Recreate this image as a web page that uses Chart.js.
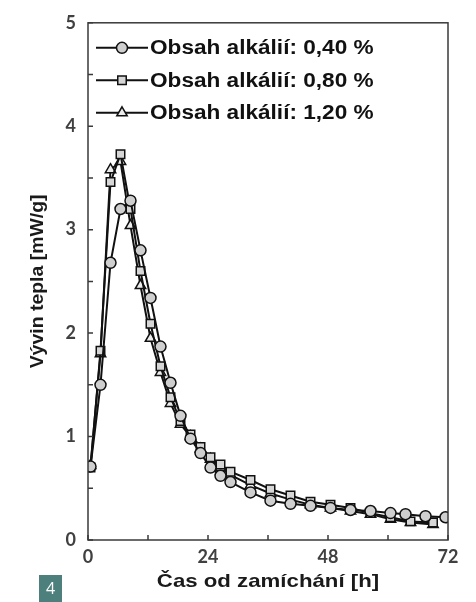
<!DOCTYPE html>
<html lang="cs">
<head>
<meta charset="utf-8">
<title>Vývin tepla</title>
<script src="https://cdn.jsdelivr.net/npm/chart.js@4.4.1/dist/chart.umd.min.js"></script>
<style>
  html, body { margin: 0; padding: 0; background: #fff; }
  #wrap { position: relative; width: 476px; height: 602px; }
</style>
</head>
<body>
<div id="wrap"><canvas id="heatChart"></canvas></div>
<script>
// time axis [h] for each series
const timeCircle = [0.5, 2.5, 4.5, 6.5, 8.5, 10.5, 12.5, 14.5, 16.5, 18.5, 20.5, 22.5, 24.5, 26.5, 28.5,
  32.5, 36.5, 40.5, 44.5, 48.5, 52.5, 56.5, 60.5, 63.5, 67.5, 71.5];
const timeSquareTri = [0.5, 2.5, 4.5, 6.5, 8.5, 10.5, 12.5, 14.5, 16.5, 18.5, 20.5, 22.5, 24.5, 26.5, 28.5,
  32.5, 36.5, 40.5, 44.5, 48.5, 52.5, 56.5, 60.5, 64.5, 69];

// heat flow [mW/g]
const alk040 = [0.71, 1.50, 2.68, 3.20, 3.28, 2.80, 2.34, 1.87, 1.52, 1.20, 0.98, 0.84, 0.70, 0.62, 0.56,
  0.46, 0.38, 0.35, 0.33, 0.31, 0.29, 0.28, 0.26, 0.25, 0.23, 0.22];
const alk080 = [0.70, 1.83, 3.46, 3.73, 3.20, 2.60, 2.09, 1.68, 1.38, 1.15, 1.02, 0.90, 0.80, 0.73, 0.66,
  0.58, 0.49, 0.43, 0.37, 0.34, 0.31, 0.26, 0.22, 0.18, 0.17];
const alk120 = [0.72, 1.80, 3.58, 3.66, 3.04, 2.46, 1.95, 1.62, 1.32, 1.12, 1.00, 0.88, 0.78, 0.70, 0.63,
  0.53, 0.45, 0.39, 0.34, 0.31, 0.28, 0.25, 0.20, 0.17, 0.15];

const seriesLabels = ["Obsah alkálií: 0,40 %", "Obsah alkálií: 0,80 %", "Obsah alkálií: 1,20 %"];
const xTickLabels = [0, 24, 48, 72];
const yTickLabels = [0, 1, 2, 3, 4, 5];
const xTitle = "Čas od zamíchání [h]";
const yTitle = "Vývin tepla [mW/g]";

const FONT = "'Liberation Sans', Arial, sans-serif";

function toPoints(times, values) {
  return times.map((t, i) => ({ x: t, y: values[i] }));
}

// text a bit wider than the font gives, like the source figure
function wideText(ctx, text, x, y, stretch, align) {
  ctx.save();
  ctx.translate(x, y);
  ctx.scale(stretch, 1);
  ctx.textAlign = align;
  ctx.fillText(text, 0, 0);
  ctx.restore();
}

// frame, inward ticks, legend inside the plot, axis titles, figure badge
const framePlugin = {
  id: "frame",
  afterDraw(chart) {
    const ctx = chart.ctx;
    const { left, right, top, bottom } = chart.chartArea;
    const xs = chart.scales.x;
    const ys = chart.scales.y;

    ctx.save();
    ctx.strokeStyle = "#3a3a3a";
    ctx.lineWidth = 1.5;
    ctx.strokeRect(left, top, right - left, bottom - top);

    ctx.beginPath();
    xs.ticks.forEach((t) => {
      const px = xs.getPixelForValue(t.value);
      ctx.moveTo(px, bottom);
      ctx.lineTo(px, bottom - 5);
    });
    ys.ticks.forEach((t) => {
      const py = ys.getPixelForValue(t.value);
      ctx.moveTo(left, py);
      ctx.lineTo(left + 5, py);
    });
    ctx.stroke();

    // legend
    chart.data.datasets.forEach((ds, i) => {
      const rowY = top + 25 + i * 32.5;
      ctx.strokeStyle = "#111";
      ctx.lineWidth = 2;
      ctx.beginPath();
      ctx.moveTo(left + 8, rowY);
      ctx.lineTo(left + 60, rowY);
      ctx.stroke();
      ctx.fillStyle = ds.pointBackgroundColor;
      ctx.strokeStyle = "#111";
      ctx.lineWidth = 1.5;
      Chart.helpers.drawPoint(ctx, {
        pointStyle: ds.pointStyle,
        radius: ds.pointRadius,
        rotation: 0,
        borderWidth: 1.5,
      }, left + 34, rowY);
      ctx.fillStyle = "#111";
      ctx.font = "bold 20px " + FONT;
      ctx.textBaseline = "middle";
      wideText(ctx, ds.label, left + 62, rowY + 1, 1.13, "left");
    });

    // axis titles
    ctx.fillStyle = "#1a1a1a";
    ctx.font = "bold 19px " + FONT;
    ctx.textBaseline = "middle";
    wideText(ctx, xTitle, (left + right) / 2, 582, 1.17, "center");
    ctx.save();
    ctx.translate(38, (top + bottom) / 2);
    ctx.rotate(-Math.PI / 2);
    ctx.font = "bold 18px " + FONT;
    wideText(ctx, yTitle, 0, 0, 1.08, "center");
    ctx.restore();

    // figure number badge
    ctx.fillStyle = "#4d7f7c";
    ctx.fillRect(39, 575, 23, 27);
    ctx.fillStyle = "#fff";
    ctx.font = "16px 'Open Sans', sans-serif";
    ctx.textAlign = "center";
    ctx.textBaseline = "middle";
    ctx.fillText("4", 50.5, 589);
    ctx.restore();
  },
};

const lineColor = "#111";

new Chart(document.getElementById("heatChart"), {
  type: "line",
  data: {
    datasets: [
      {
        label: seriesLabels[0],
        data: toPoints(timeCircle, alk040),
        borderColor: lineColor,
        borderWidth: 2,
        pointStyle: "circle",
        pointRadius: 5.5,
        pointBorderWidth: 1.5,
        pointBorderColor: lineColor,
        pointBackgroundColor: "#cfcfcf",
        tension: 0,
      },
      {
        label: seriesLabels[1],
        data: toPoints(timeSquareTri, alk080),
        borderColor: lineColor,
        borderWidth: 2,
        pointStyle: "rect",
        pointRadius: 6,
        pointBorderWidth: 1.5,
        pointBorderColor: lineColor,
        pointBackgroundColor: "#d6d6d6",
        tension: 0,
      },
      {
        label: seriesLabels[2],
        data: toPoints(timeSquareTri, alk120),
        borderColor: lineColor,
        borderWidth: 2,
        pointStyle: "triangle",
        pointRadius: 6,
        pointBorderWidth: 1.5,
        pointBorderColor: lineColor,
        pointBackgroundColor: "#ececec",
        tension: 0,
      },
    ],
  },
  options: {
    responsive: true,
    maintainAspectRatio: false,
    animation: false,
    layout: {
      padding: { top: 20, right: 28, bottom: 10, left: 28 },
    },
    plugins: {
      legend: { display: false },
      tooltip: { enabled: false },
    },
    scales: {
      x: {
        type: "linear",
        min: 0,
        max: 72,
        afterFit: (scale) => { scale.height = 52; },
        ticks: {
          stepSize: 12,
          autoSkip: false,
          maxRotation: 0,
          padding: 6,
          color: "#404040",
          font: { family: "Lato, " + FONT, size: 18, weight: "bold" },
          callback: (v) => (xTickLabels.includes(v) ? v : ""),
        },
        grid: { display: false, drawTicks: false },
        border: { display: false },
      },
      y: {
        min: 0,
        max: 5,
        afterFit: (scale) => { scale.width = 60; },
        ticks: {
          stepSize: 0.5,
          autoSkip: false,
          padding: 12,
          color: "#404040",
          font: { family: "Lato, " + FONT, size: 18, weight: "bold" },
          callback: (v) => (yTickLabels.includes(v) ? v : ""),
        },
        grid: { display: false, drawTicks: false },
        border: { display: false },
      },
    },
  },
  plugins: [framePlugin],
});
</script>
</body>
</html>
